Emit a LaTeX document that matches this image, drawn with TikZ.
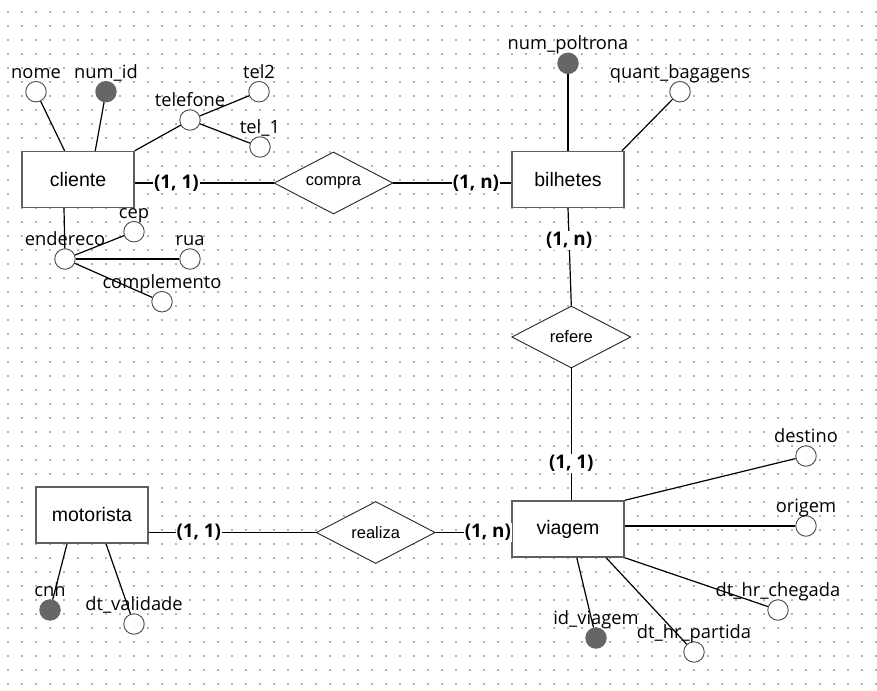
\documentclass[tikz,border=0pt]{standalone}
\usepackage{fontspec}
\setmainfont{Liberation Sans}
\newfontfamily\attrfont{Open Sans}
\usetikzlibrary{shapes.geometric,calc}

\definecolor{gridgray}{HTML}{B4B4B4}
\definecolor{boxgray}{HTML}{5F5F5F}
\definecolor{keygray}{HTML}{666666}

\tikzset{
  entity/.style={rectangle, draw=boxgray, line width=1.4pt, fill=white,
    minimum width=112pt, minimum height=56pt, inner sep=0pt,
    font=\fontsize{19.5}{22}\selectfont},
  relation/.style={diamond, draw=black!85, line width=0.9pt, fill=white,
    minimum width=119pt, minimum height=62pt, inner sep=0pt, aspect=1.9,
    font=\fontsize{16.5}{19}\selectfont},
  attr/.style={circle, draw=black!70, line width=0.9pt, fill=white,
    minimum size=20.5pt, inner sep=0pt},
  keyattr/.style={attr, fill=keygray, draw=keygray},
  attrlabel/.style={anchor=base, inner sep=0pt,
    font=\attrfont\fontsize{18.3}{21}\selectfont},
  link/.style={draw=black, line width=1.2pt},
  card/.style={fill=white, inner sep=1pt,
    font=\attrfont\bfseries\fontsize{18.8}{21}\selectfont},
}

\begin{document}
\begin{tikzpicture}[x=1pt, y=-1pt]
\useasboundingbox (0,0) rectangle (877,690);
\fill[white] (0,0) rectangle (877,690);

% dotted background grid
\foreach \i in {0,...,62}
  \foreach \j in {0,...,48}
    \fill[gridgray] ({7.45+14*\i},{11.45+14*\j}) rectangle ++(1.7,1.7);

% entities
\node[entity] (cliente)   at (78,179.5)  {cliente};
\node[entity] (bilhetes)  at (568,179.5) {bilhetes};
\node[entity] (viagem)    at (568,529)   {viagem};
\node[entity] (motorista) at (92,515)    {motorista};

% relationships
\node[relation] (compra)  at (333.5,183) {compra};
\node[relation] (refere)  at (571.3,337) {refere};
\node[relation] (realiza) at (375.7,532.5) {realiza};

% attributes of cliente
\node[attr]    (nome)        at (36,91.7)   {};
\node[keyattr] (num_id)      at (106,91.7)  {};
\node[attr]    (telefone)    at (190,120)   {};
\node[attr]    (tel2)        at (259,91.7)  {};
\node[attr]    (tel_1)       at (260,147)   {};
\node[attr]    (endereco)    at (65,259)    {};
\node[attr]    (cep)         at (134,231.7) {};
\node[attr]    (rua)         at (190,259)   {};
\node[attr]    (complemento) at (162,301.7) {};

% attributes of bilhetes
\node[keyattr] (num_poltrona)   at (568,63.3) {};
\node[attr]    (quant_bagagens) at (680,91.7) {};

% attributes of viagem
\node[attr]    (destino)       at (806,456) {};
\node[attr]    (origem)        at (806,526) {};
\node[attr]    (dt_hr_chegada) at (778,610) {};
\node[attr]    (dt_hr_partida) at (694,652) {};
\node[keyattr] (id_viagem)     at (596,638) {};

% attributes of motorista
\node[keyattr] (cnh)         at (50,610)  {};
\node[attr]    (dt_validade) at (134,624) {};

% attribute names
\foreach \a/\t in {nome/nome, num_id/num\_id, telefone/telefone, tel2/tel2,
    tel_1/tel\_1, endereco/endereco, cep/cep, rua/rua, complemento/complemento,
    num_poltrona/num\_poltrona, quant_bagagens/quant\_bagagens,
    destino/destino, origem/origem, dt_hr_chegada/dt\_hr\_chegada,
    dt_hr_partida/dt\_hr\_partida, id_viagem/id\_viagem,
    cnh/cnh, dt_validade/dt\_validade}
  \node[attrlabel] (\a-label) at ($(\a.center)+(0,-13.5)$) {\t};

% attribute connectors
\draw[link] (nome) -- (cliente.115.3);
\draw[link] (num_id) -- (cliente.59.8);
\draw[link] (telefone) -- (cliente.north east);
\draw[link] (telefone) -- (tel2);
\draw[link] (telefone) -- (tel_1);
\draw[link] (endereco) -- (cliente.244.7);
\draw[link] (endereco) -- (cep);
\draw[link] (endereco) -- (rua);
\draw[link] (endereco) -- (complemento);

\draw[link] (num_poltrona) -- (bilhetes.north);
\draw[link] (quant_bagagens) -- (bilhetes.28);

\draw[link] (destino) -- (viagem.north east);
\draw[link] (origem) -- (origem -| viagem.east);
\draw[link] (dt_hr_chegada) -- (viagem.south east);
\draw[link] (dt_hr_partida) -- (viagem.323.6);
\draw[link] (id_viagem) -- (viagem.287.3);

\draw[link] (cnh) -- (motorista.229.8);
\draw[link] (dt_validade) -- (motorista.296.6);

% relationship connectors with cardinalities
\draw[link] (cliente.east |- compra.west) -- node[card, pos=0.3] {(1, 1)} (compra.west);
\draw[link] (compra.east) -- node[card, pos=0.7] {(1, n)} (bilhetes.west |- compra.east);
\draw[link] (bilhetes.south) -- node[card, pos=0.33] {(1, n)} (refere.north);
\draw[link] (refere.south) -- node[card, pos=0.72] {(1, 1)} (viagem.north -| refere.south);
\draw[link] (motorista.east |- realiza.west) -- node[card, pos=0.3] {(1, 1)} (realiza.west);
\draw[link] (realiza.east) -- node[card, pos=0.69] {(1, n)} (viagem.west |- realiza.east);
\end{tikzpicture}
\end{document}
